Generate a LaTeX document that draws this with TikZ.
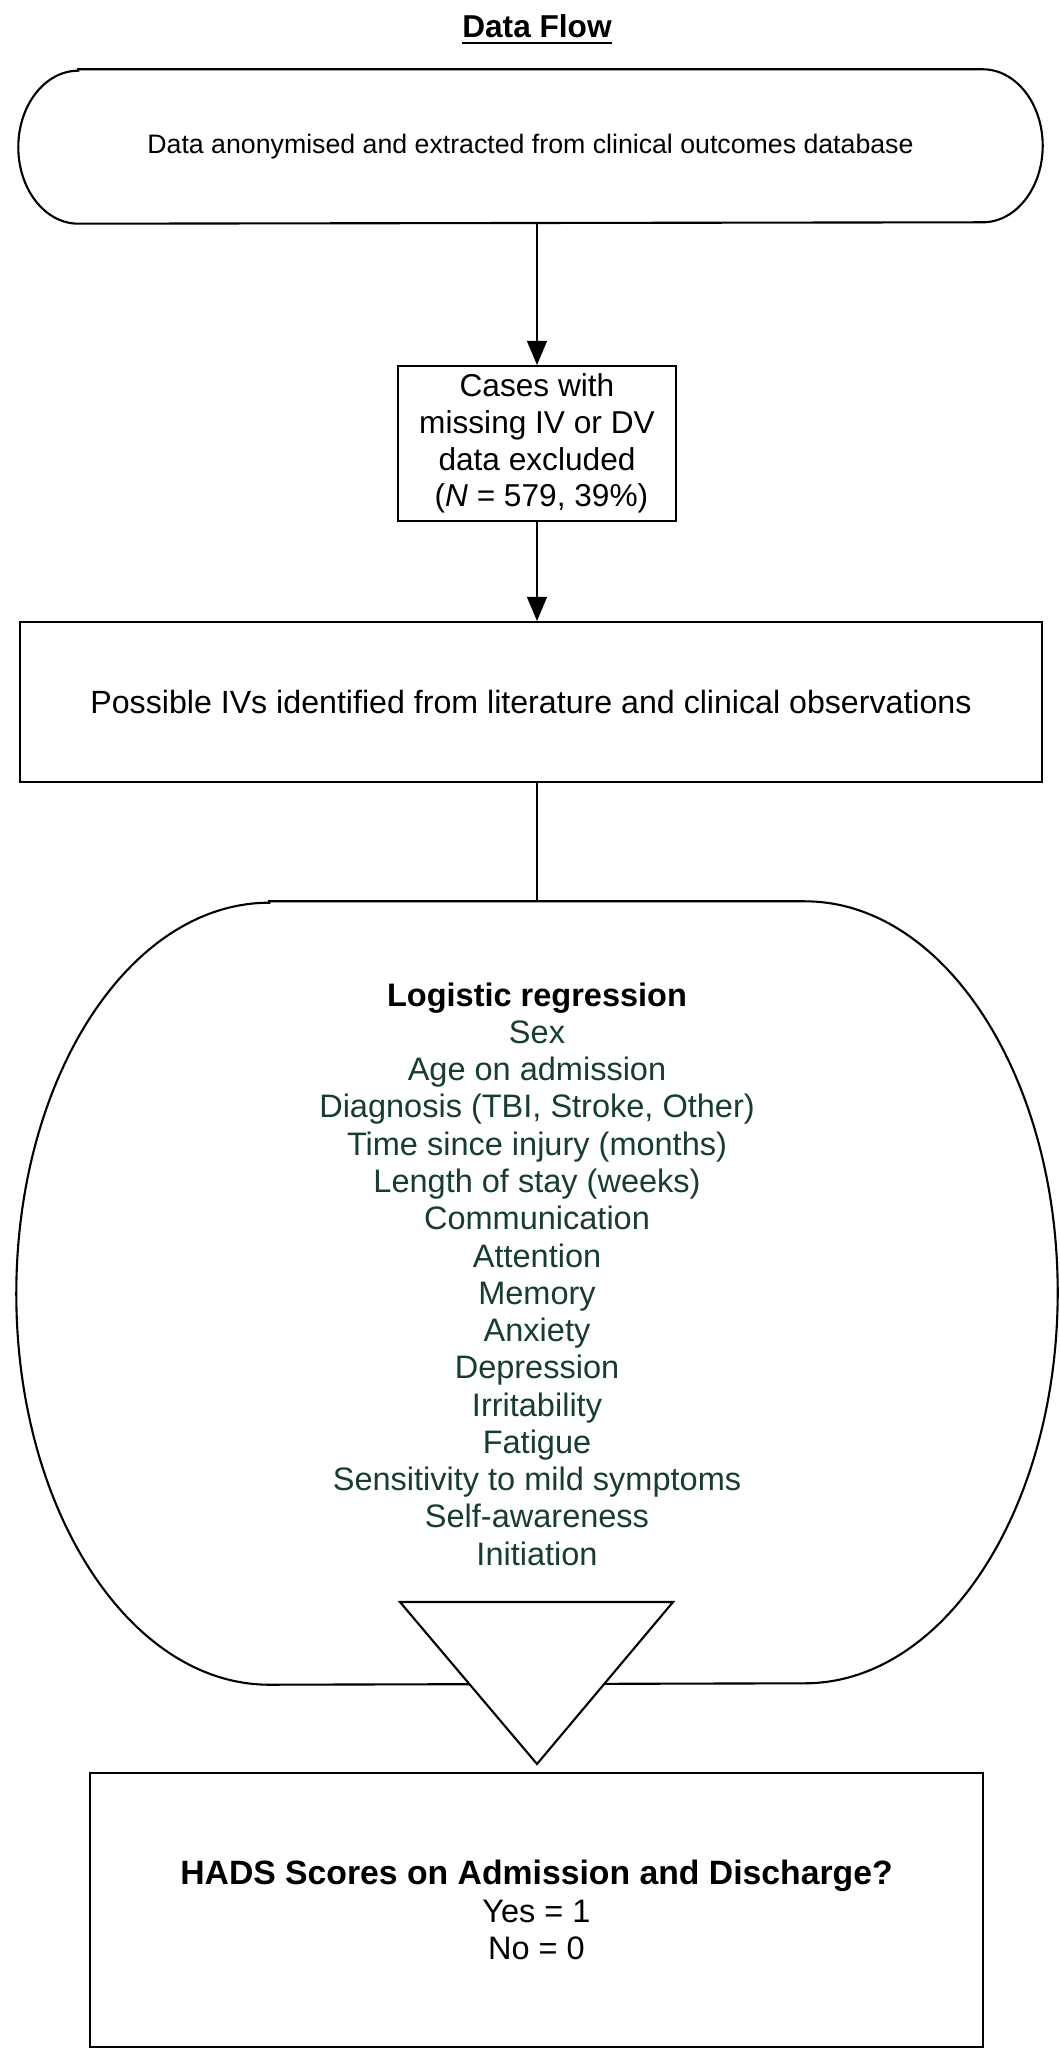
\documentclass[tikz,border=0pt]{standalone}
\usepackage{fontspec}
\setmainfont{Liberation Sans}
\usetikzlibrary{arrows.meta}

\definecolor{listgreen}{RGB}{23,61,51}

\tikzset{
  shapeline/.style={line width=0.6pt},
  boxnode/.style={draw, shapeline, align=center, inner sep=0pt},
  plainnode/.style={align=center, inner sep=0pt},
  connector/.style={line width=0.3pt},
  flowarrow/.style={connector, -{Triangle[length=0.24cm, width=0.2cm]}},
}
\newcommand{\bodyfont}{\fontsize{9.0}{10.45}\selectfont}
\newcommand{\listfont}{\fontsize{9.25}{10.6}\selectfont}
\newcommand{\topfont}{\fontsize{7.6}{9.2}\selectfont}

\begin{document}
\begin{tikzpicture}
\useasboundingbox (0,0) rectangle (10.6,-20.56);

% title
\node[plainnode, anchor=base, font=\bodyfont\bfseries] (title) at (5.37,-0.38) {Data Flow};
\draw[line width=0.55pt] ([yshift=-0.05cm]title.base west) -- ([yshift=-0.05cm]title.base east);

% rounded terminal
\node[plainnode, font=\topfont, minimum width=10.23cm, minimum height=1.53cm] (extract) at (5.305,-1.465)
  {Data anonymised and extracted from clinical outcomes database};
\draw[shapeline] ([xshift=0.6cm]extract.north west) -- ([xshift=-0.6cm]extract.north east)
  arc[start angle=90, end angle=-90, x radius=0.6, y radius=0.765]
  -- ([xshift=0.6cm]extract.south west)
  arc[start angle=270, end angle=90, x radius=0.6, y radius=0.765] -- cycle;

% boxes
\node[boxnode, font=\bodyfont, minimum width=2.78cm, minimum height=1.55cm] (cases) at (5.37,-4.435)
  {Cases with\\missing IV or DV\\data excluded\\~(\textit{N} = 579, 39\%)};
\node[boxnode, font=\fontsize{9.15}{10.5}\selectfont, minimum width=10.22cm, minimum height=1.60cm] (ivs) at (5.31,-7.02)
  {Possible IVs identified from literature and clinical observations};

% regression shape
\node[plainnode, minimum width=10.40cm, minimum height=7.82cm] (logit) at (5.37,-12.93) {};
\draw[shapeline] ([xshift=2.53cm]logit.north west) -- ([xshift=-2.53cm]logit.north east)
  arc[start angle=90, end angle=-90, x radius=2.53, y radius=3.91]
  -- ([xshift=2.53cm]logit.south west)
  arc[start angle=270, end angle=90, x radius=2.53, y radius=3.91] -- cycle;
\node[plainnode, font=\listfont, text=listgreen] (vars) at (5.37,-12.74)
  {\textcolor{black}{\textbf{Logistic regression}}\\
  Sex\\Age on admission\\Diagnosis (TBI, Stroke, Other)\\
  Time since injury (months)\\Length of stay (weeks)\\Communication\\Attention\\
  Memory\\Anxiety\\Depression\\Irritability\\Fatigue\\
  Sensitivity to mild symptoms\\Self-awareness\\Initiation};

% merge triangle
\filldraw[shapeline, fill=white] (4.00,-16.02) coordinate (mergeL) -- (6.73,-16.02) coordinate (mergeR)
  -- (5.37,-17.64) coordinate (mergeT) -- cycle;

\node[boxnode, font=\listfont, minimum width=8.93cm, minimum height=2.74cm] (outcome) at (5.365,-19.10)
  {\textbf{\fontsize{9.6}{10.6}\selectfont HADS Scores on Admission and Discharge?}\\Yes = 1\\No = 0};

% connectors
\draw[flowarrow] (extract.south -| cases.north) -- (cases.north);
\draw[flowarrow] (cases.south) -- (cases.south |- ivs.north);
\draw[connector] (ivs.south -| cases.south) -- (logit.north -| cases.south);

\end{tikzpicture}
\end{document}
